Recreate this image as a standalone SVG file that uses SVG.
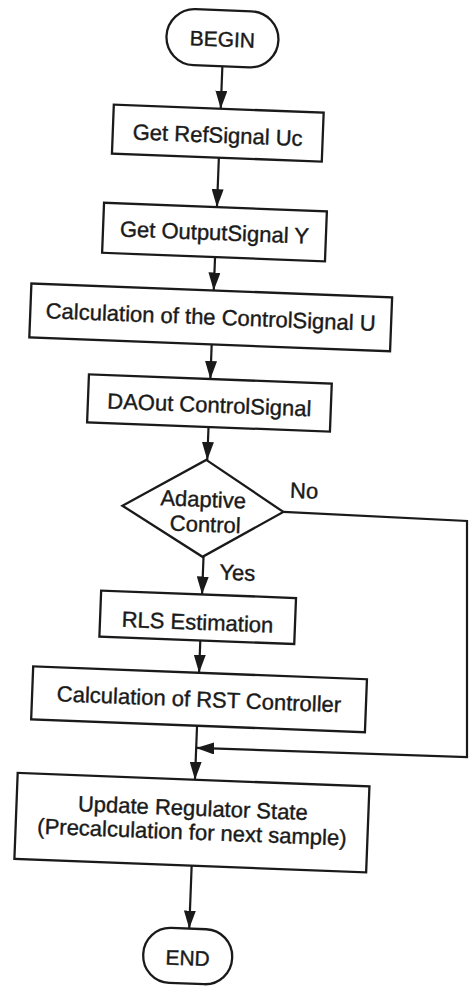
<svg xmlns="http://www.w3.org/2000/svg" width="469" height="987" viewBox="0 0 469 987">
<defs>
<style>
.b{fill:#fff;stroke:#1a1a1a;stroke-width:2.3}
.t{font-family:"Liberation Sans",Arial,sans-serif;font-size:22px;fill:#1a1a1a;stroke:#1a1a1a;stroke-width:0.4;text-anchor:middle}
.c{fill:none;stroke:#1a1a1a;stroke-width:2.2}
</style>
<marker id="ah" markerWidth="18" markerHeight="12" refX="18" refY="6" orient="auto" markerUnits="userSpaceOnUse">
<path d="M0,0 L18,6 L0,12 Z" fill="#1a1a1a"/>
</marker>
</defs>
<rect width="469" height="987" fill="#fff"/>
<g id="connectors">
<g transform="rotate(2.2 234 493)">
<path class="c" d="M206,67 V109.5" marker-end="url(#ah)"/>
<path class="c" d="M206,158.5 V208" marker-end="url(#ah)"/>
<path class="c" d="M206,258 V291.4" marker-end="url(#ah)"/>
<path class="c" d="M206,345.4 V380" marker-end="url(#ah)"/>
<path class="c" d="M206,428 V461" marker-end="url(#ah)"/>
<path class="c" d="M206,558 V595.6" marker-end="url(#ah)"/>
<path class="c" d="M206,641.6 V674" marker-end="url(#ah)"/>
<path class="c" d="M206,727 V781" marker-end="url(#ah)"/>
<path class="c" d="M206,867 V930" marker-end="url(#ah)"/>
</g>
<path class="c" d="M283.3,511.9 L467,521 L467,757 L196.2,747.9" marker-end="url(#ah)"/>
</g>
<g transform="rotate(2.2 234 493)">
<g id="begin">
<rect class="b" x="149" y="11" width="112" height="56" rx="28"/>
<text class="t" x="205" y="47.3" style="font-size:21px">BEGIN</text>
</g>
<g id="getref">
<rect class="b" x="99" y="109.5" width="210" height="49"/>
<text class="t" x="204" y="143.6">Get RefSignal Uc</text>
</g>
<g id="getout">
<rect class="b" x="93" y="208" width="223" height="50"/>
<text class="t" x="204.5" y="241">Get OutputSignal Y</text>
</g>
<g id="calcu">
<rect class="b" x="23.5" y="291.4" width="361" height="54"/>
<text class="t" x="204" y="325.6">Calculation of the ControlSignal U</text>
</g>
<g id="daout">
<rect class="b" x="84.5" y="380" width="243" height="48"/>
<text class="t" x="206" y="413.4">DAOut ControlSignal</text>
</g>
<g id="adaptive">
<polygon class="b" points="205,461 284,510 205,558 123,510"/>
<text class="t" x="203.5" y="508">Adaptive</text>
<text class="t" x="206.5" y="533">Control</text>
</g>
<text class="t" x="304" y="495.6">No</text>
<text class="t" x="240.5" y="580">Yes</text>
<g id="rls">
<rect class="b" x="105" y="595.6" width="195" height="46"/>
<text class="t" x="202.5" y="631">RLS Estimation</text>
</g>
<g id="rst">
<rect class="b" x="40" y="674" width="334" height="53"/>
<text class="t" x="207" y="708">Calculation of RST Controller</text>
</g>
<g id="update">
<rect class="b" x="28.6" y="781" width="352" height="86"/>
<text class="t" x="205" y="817">Update Regulator State</text>
<text class="t" x="205" y="841">(Precalculation for next sample)</text>
</g>
<g id="end">
<rect class="b" x="161" y="930" width="89" height="55" rx="27"/>
<text class="t" x="205.5" y="966.8" style="font-size:21px">END</text>
</g>
</g>
</svg>
